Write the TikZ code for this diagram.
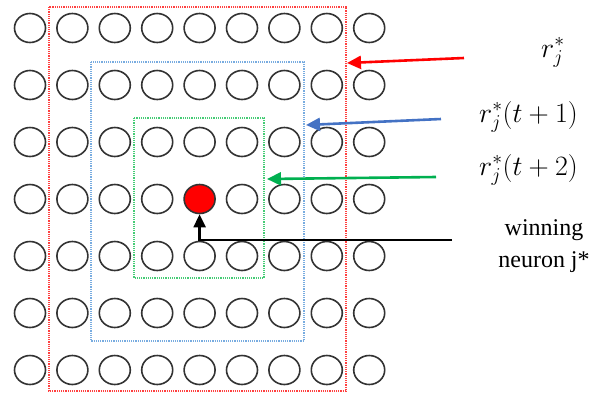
\RequirePackage{fix-cm}
\documentclass[tikz,border=0pt]{standalone}
\usepackage{fontspec}
\setmainfont{Liberation Serif}
\usetikzlibrary{arrows.meta}
\definecolor{zred}{HTML}{FF4040}
\definecolor{zblue}{HTML}{78ACE0}
\definecolor{zgreen}{HTML}{45CC75}
\definecolor{ared}{HTML}{FF0000}
\definecolor{ablue}{HTML}{4472C4}
\definecolor{agreen}{HTML}{00B050}
\tikzset{
  neuron/.style={draw=black!80, line width=1.6pt, ellipse, inner sep=0pt, minimum width=31pt, minimum height=29pt},
  winner/.style={neuron, fill=ared},
  zone/.style={line width=1.6pt, dash pattern=on 1.2pt off 1pt},
  pointer/.style={line width=2.6pt, -{Triangle[length=14pt,width=13pt]}},
  mathlbl/.style={anchor=base west, inner sep=0pt, font=\fontsize{28}{32}\selectfont},
  textlbl/.style={align=center, inner sep=0pt, font=\fontsize{24}{32}\selectfont}
}
\usetikzlibrary{shapes.geometric}
\begin{document}
\begin{tikzpicture}[x=1pt,y=-1pt]
\useasboundingbox (0,0) rectangle (596,392);
% neighbourhood zones
\draw[zone, zred] (49,7) rectangle (346,391);
\draw[zone, zblue] (91,62) rectangle (304,341);
\draw[zone, zgreen] (134,118) rectangle (264,278);
% grid of neurons
\foreach \i in {1,...,9}{
  \foreach \j in {1,...,7}{
    \pgfmathsetmacro{\cx}{30+42.4*(\i-1)}
    \pgfmathsetmacro{\cy}{28+57*(\j-1)}
    \ifnum\i=5 \ifnum\j=4
      \node[winner] (c-\i-\j) at (\cx,\cy) {};
    \else
      \node[neuron] (c-\i-\j) at (\cx,\cy) {};
    \fi\else
      \node[neuron] (c-\i-\j) at (\cx,\cy) {};
    \fi
  }
}
% labels
\node[mathlbl] (l1) at (541,57) {$r_j^*$};
\node[mathlbl] (l2) at (479,122) {$r_j^*(t+1)$};
\node[mathlbl] (l3) at (479,175) {$r_j^*(t+2)$};
\node[textlbl] (l4) at (544,246) {winning\\neuron j*};
% arrow ends
\coordinate (s1) at (464,58);
\coordinate (t1) at (347,63);
\coordinate (s2) at (441,119);
\coordinate (t2) at (306,125);
\coordinate (s3) at (436,177);
\coordinate (t3) at (267,179);
\coordinate (s4) at (452,240);
\draw[pointer, ared] (s1) -- (t1);
\draw[pointer, ablue] (s2) -- (t2);
\draw[pointer, agreen] (s3) -- (t3);
\draw[line width=2.4pt, -{Triangle[length=13pt,width=12pt]}, black] (s4) -- (s4 -| c-5-4.south) -- (c-5-4.south);
\end{tikzpicture}
\end{document}
